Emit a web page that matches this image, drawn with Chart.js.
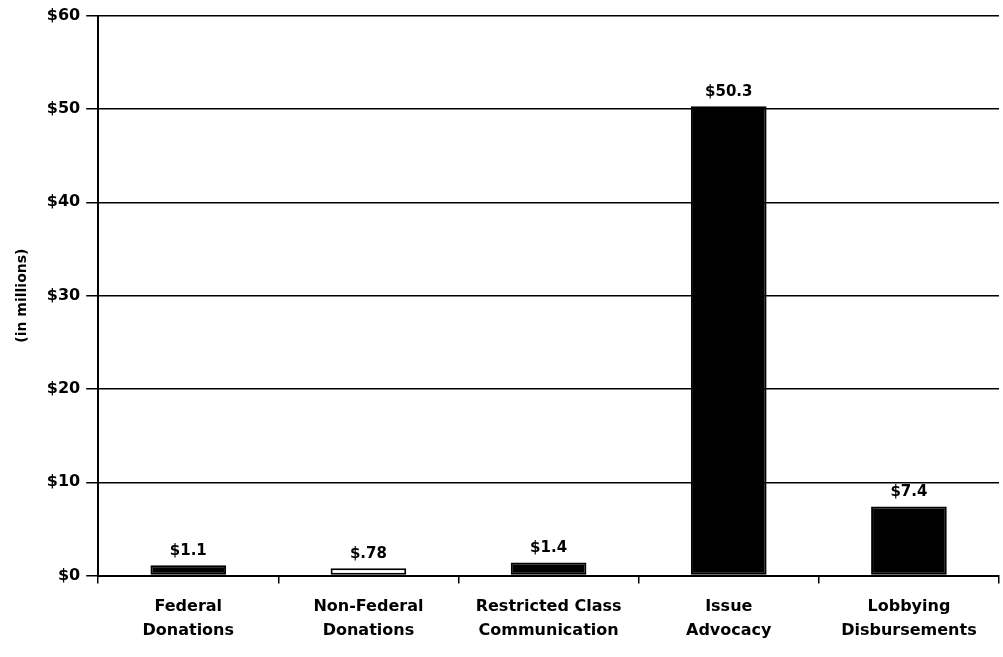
<!DOCTYPE html>
<html>
<head>
<meta charset="utf-8">
<script src="https://cdn.jsdelivr.net/npm/chart.js@4"></script>
<style>
  body { margin: 0; background: #fff; }
  #caixa { width: 1003px; height: 657px; }
</style>
</head>
<body>
<div id="caixa"><canvas id="grafico"></canvas></div>
<script>
// dados
var categorias = [["Federal", "Donations"], ["Non-Federal", "Donations"], ["Restricted Class", "Communication"], ["Issue", "Advocacy"], ["Lobbying", "Disbursements"]];
var valores = [1.1, 0.78, 1.4, 50.3, 7.4];
var rotulos = ["$1.1", "$.78", "$1.4", "$50.3", "$7.4"];
var coresBarra = ["#000", "#fff", "#000", "#000", "#000"];

var fonte = "'DejaVu Sans', Arial, sans-serif";

// escreve os valores em cima das barras
var pluginRotulos = {
  id: "rotulos",
  afterDatasetsDraw: function(chart) {
    var ctx = chart.ctx;
    var barras = chart.getDatasetMeta(0).data;
    ctx.save();
    ctx.fillStyle = "#000";
    ctx.font = "bold 15px " + fonte;
    ctx.textAlign = "center";
    ctx.textBaseline = "bottom";
    for (var i = 0; i < barras.length; i++) {
      ctx.fillText(rotulos[i], barras[i].x, barras[i].y - 7);
    }
    ctx.restore();
  }
};

var grafico = new Chart(document.getElementById("grafico"), {
  type: "bar",
  data: {
    labels: categorias,
    datasets: [{
      data: valores,
      backgroundColor: coresBarra,
      borderColor: "#000",
      borderWidth: 2,
      borderSkipped: false,
      barPercentage: 0.42,
      categoryPercentage: 1
    }]
  },
  options: {
    responsive: true,
    maintainAspectRatio: false,
    animation: false,
    layout: { padding: { top: 8, right: 4, left: 10, bottom: 3 } },
    plugins: {
      legend: { display: false },
      tooltip: { enabled: false }
    },
    scales: {
      y: {
        min: 0,
        max: 60,
        ticks: {
          stepSize: 10,
          color: "#000",
          padding: 6,
          font: { family: fonte, size: 16, weight: "bold" },
          callback: function(v) { return "$" + v; }
        },
        grid: { color: "#000", lineWidth: 1.5, tickLength: 12 },
        border: { color: "#000", width: 2 },
        title: {
          display: true,
          text: "(in millions)",
          color: "#000",
          padding: { bottom: 10 },
          font: { family: fonte, size: 14, weight: "bold" }
        }
      },
      x: {
        ticks: {
          color: "#000",
          padding: 12,
          maxRotation: 0,
          font: { family: fonte, size: 16, weight: "bold", lineHeight: 1.45 }
        },
        grid: { offset: true, drawOnChartArea: false, color: "#000", lineWidth: 1.5, tickLength: 8 },
        border: { color: "#000", width: 2 }
      }
    }
  },
  plugins: [pluginRotulos]
});
</script>
</body>
</html>
